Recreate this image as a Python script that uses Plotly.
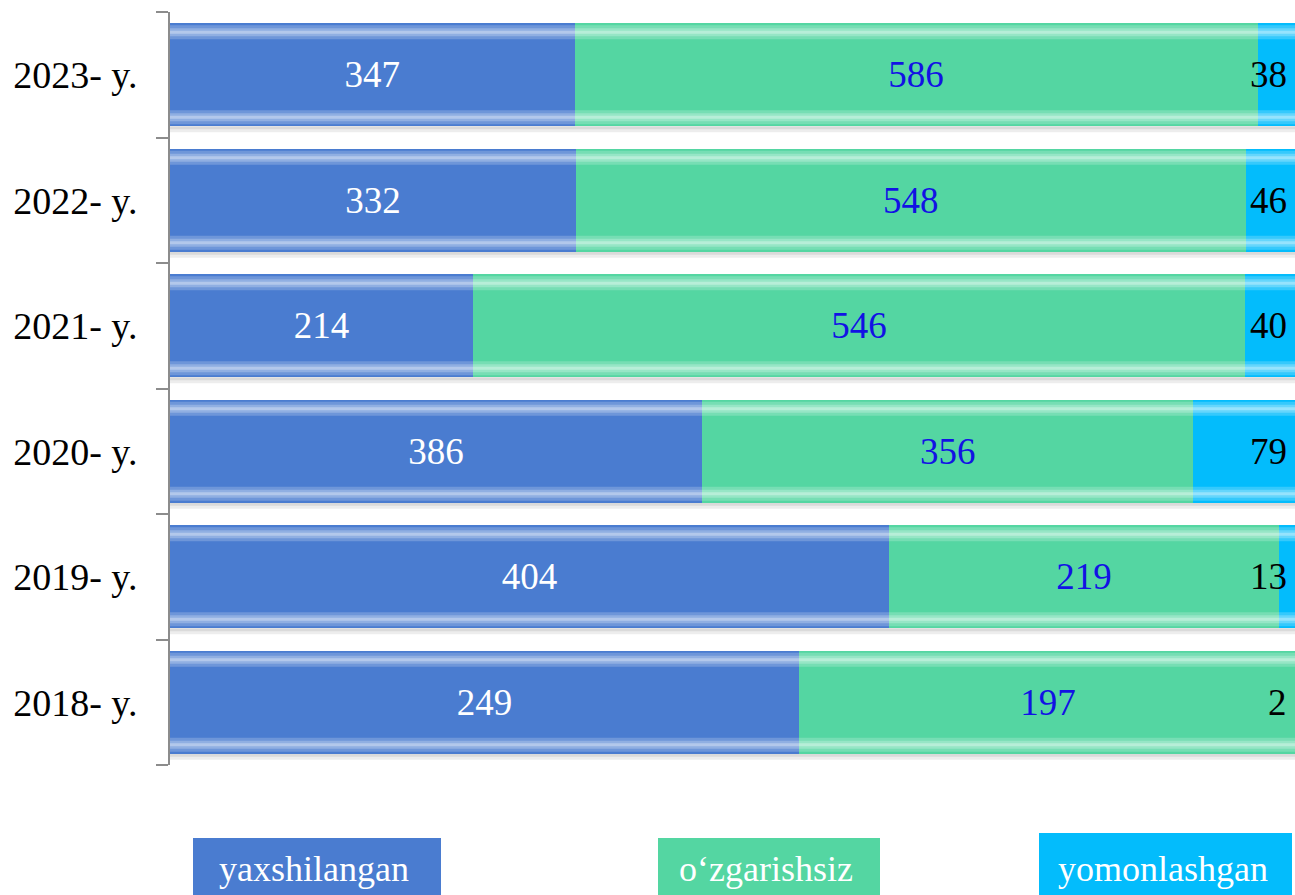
import plotly.graph_objects as go

# Survey results by year (counts per category)
years = ["2018- y.", "2019- y.", "2020- y.", "2021- y.", "2022- y.", "2023- y."]
improved = [249, 404, 386, 214, 332, 347]      # yaxshilangan
unchanged = [197, 219, 356, 546, 548, 586]     # o‘zgarishsiz
worsened = [2, 13, 79, 40, 46, 38]             # yomonlashgan

series_names = ["yaxshilangan", "o‘zgarishsiz", "yomonlashgan"]
colors = ["#4a7cd0", "#54d6a2", "#03bcfc"]
label_colors = ["white", "#1212e4", "black"]

FONT = "Liberation Serif, Times New Roman, serif"
W, H = 1295, 895
M_L, M_R, M_T, M_B = 170, 0, 12, 130
BAR_GAP = 0.18

fig = go.Figure()
for name, vals, col, lcol, show_text in zip(
        series_names, [improved, unchanged, worsened], colors, label_colors,
        [True, True, False]):
    fig.add_trace(go.Bar(
        y=years, x=vals, name=name, orientation="h",
        marker=dict(color=col, line=dict(width=0)),
        text=[str(v) for v in vals] if show_text else None,
        textposition="inside" if show_text else "none",
        insidetextanchor="middle",
        textangle=0,
        constraintext="none",
        textfont=dict(family=FONT, size=37, color=lcol),
        showlegend=False,
    ))

# Labels of the last (narrow) segment sit at the right edge of the bars
annotations = []
for yr, v in zip(years, worsened):
    annotations.append(dict(
        xref="paper", yref="y", x=1, y=yr, xanchor="right", yanchor="middle",
        xshift=-6, text=str(v), showarrow=False,
        font=dict(family=FONT, size=37, color="black")))

# Glossy highlight bands and soft drop shadow for every bar
plot_h = H - M_T - M_B
px = len(years) / plot_h          # one pixel in category units
half = (1 - BAR_GAP) / 2
shapes = []
for i in range(len(years)):
    top, bot = i + half, i - half
    for edge, sign in ((top, -1), (bot, 1)):
        centre = edge + sign * 9 * px
        for hgt, op in ((14, 0.2), (8, 0.24), (3, 0.32)):
            shapes.append(dict(
                type="rect", xref="x", yref="y", x0=0, x1=1,
                y0=centre - hgt * px / 2, y1=centre + hgt * px / 2,
                fillcolor="white", opacity=op, line=dict(width=0), layer="above"))
    for hgt, op in ((6, 0.07), (3, 0.08)):
        shapes.append(dict(
            type="rect", xref="x", yref="y", x0=0, x1=1,
            y0=bot - hgt * px, y1=bot,
            fillcolor="black", opacity=op, line=dict(width=0), layer="below"))

# Legend drawn as coloured boxes with white captions below the plot
def to_paper_x(p):
    return (p - M_L) / (W - M_L - M_R)

def to_paper_y(p):
    return (H - M_B - p) / plot_h

legend_boxes = [(193, 441, 838), (658, 880, 838), (1039, 1292, 833)]
for name, col, (x0, x1, y0) in zip(series_names, colors, legend_boxes):
    shapes.append(dict(
        type="rect", xref="paper", yref="paper",
        x0=to_paper_x(x0), x1=to_paper_x(x1),
        y0=to_paper_y(H), y1=to_paper_y(y0),
        fillcolor=col, line=dict(width=0), layer="above"))
    annotations.append(dict(
        xref="paper", yref="paper", x=to_paper_x((x0 + x1) / 2 - 3),
        y=to_paper_y(869), xanchor="center", yanchor="middle",
        text=name, showarrow=False,
        font=dict(family=FONT, size=36, color="white")))

fig.update_layout(
    width=W, height=H,
    margin=dict(l=M_L, r=M_R, t=M_T, b=M_B),
    barmode="stack", barnorm="fraction", bargap=BAR_GAP,
    paper_bgcolor="white", plot_bgcolor="white",
    shapes=shapes, annotations=annotations,
    xaxis=dict(range=[0, 1125 / 1132], visible=False, fixedrange=True),
    yaxis=dict(
        categoryorder="array", categoryarray=years,
        range=[-0.5, len(years) - 0.5],
        showline=True, linecolor="#8c8c8c", linewidth=2,
        ticks="outside", ticklen=12, tickwidth=2, tickcolor="#8c8c8c",
        tickson="boundaries", showgrid=False, zeroline=False,
        ticklabelstandoff=23,
        tickfont=dict(family=FONT, size=38, color="black"),
    ),
)

fig.write_html("out.html")
